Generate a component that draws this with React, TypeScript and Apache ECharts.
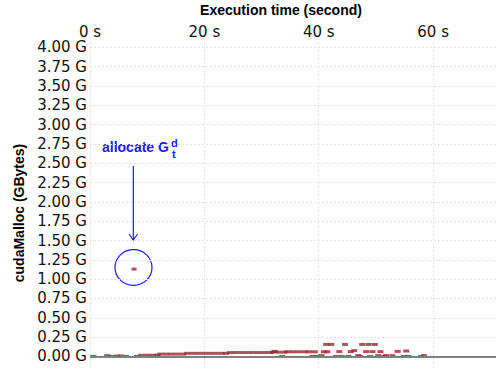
import React, { useEffect, useRef } from "react";
import * as echarts from "echarts";

const yTicks = [0, 0.25, 0.5, 0.75, 1, 1.25, 1.5, 1.75, 2, 2.25, 2.5, 2.75, 3, 3.25, 3.5, 3.75, 4];
const xTickUnit = " s";

// [time (s), cudaMalloc (GB)]
const allocPoint: number[][] = [[7.7, 1.13]];

const memTimes = [
  0.6, 3.0, 3.8, 4.8, 5.4, 6.3, 8.2,
  9.0, 10.0, 11.0, 11.8,
  12.3, 13.3, 14.3, 15.3, 16.3,
  17.0, 18.0, 19.0, 20.0, 21.0, 22.0, 23.0, 23.8,
  24.5, 25.5, 26.5, 27.5, 28.5, 29.5, 30.5, 31.5,
  32.0, 32.3, 33.0, 33.6, 34.0,
  34.5, 35.5, 36.5, 37.5, 38.3,
  39.3, 40.9, 41.5,
  41.3, 42.2, 44.6, 47.6, 48.7, 49.8,
  43.6, 45.6, 46.2, 48.3, 49.4, 50.8,
  38.9, 39.6, 40.5, 43.0, 44.0, 45.2, 46.9, 47.2, 49.0, 50.4, 51.5,
  51.8, 52.9, 53.8, 55.3, 54.9, 55.7, 57.9, 58.4,
];
const memValues = [
  0, 0.01, 0, 0.005, 0.005, 0, 0,
  0.015, 0.015, 0.015, 0.015,
  0.03, 0.03, 0.03, 0.03, 0.03,
  0.04, 0.04, 0.04, 0.04, 0.04, 0.04, 0.04, 0.04,
  0.05, 0.05, 0.05, 0.05, 0.05, 0.05, 0.05, 0.05,
  0.055, 0.065, 0.055, 0, 0.055,
  0.06, 0.06, 0.06, 0.06, 0.06,
  0.06, 0.06, 0.06,
  0.155, 0.155, 0.155, 0.155, 0.155, 0.155,
  0.062, 0.062, 0.075, 0.062, 0.062, 0.062,
  0, 0, 0.01, 0, 0, 0, 0.01, 0, 0, 0.01, 0,
  0.01, 0.01, 0.065, 0.07, 0, 0, 0, 0.01,
];

const RED = "#9b2731";
const BLUE = "#1a1aff";

export default function App() {
  const ref = useRef<HTMLDivElement>(null);
  useEffect(() => {
    if (!ref.current) return;
    const chart = echarts.init(ref.current, null, { renderer: "svg" });
    const memData = memTimes.map((t, i) => [t, memValues[i]]);
    chart.setOption({
      animation: false,
      backgroundColor: "#ffffff",
      grid: { left: 90, right: 0, top: 42, bottom: 0, outerBoundsMode: "none" },
      xAxis: {
        type: "value",
        position: "top",
        min: 0,
        max: 71,
        interval: 20,
        name: "Execution time (second)",
        nameLocation: "middle",
        nameGap: 25,
        nameTextStyle: {
          fontFamily: "Liberation Sans",
          fontWeight: "bold",
          fontSize: 14,
          color: "#000",
          padding: [0, 24, 0, 0],
        },
        axisLine: { show: false },
        axisTick: { show: false },
        axisLabel: {
          formatter: (v: number) => v + xTickUnit,
          fontFamily: "DejaVu Sans",
          fontSize: 15,
          color: "#111",
          margin: 3,
          showMaxLabel: false,
        },
        splitLine: { show: true, lineStyle: { color: "#e4e4e4", type: [2, 2], width: 1 } },
      },
      yAxis: {
        type: "value",
        min: -0.15,
        max: 4.07,
        name: "cudaMalloc (GBytes)",
        nameLocation: "middle",
        nameGap: 62,
        nameTextStyle: {
          fontFamily: "Liberation Sans",
          fontWeight: "bold",
          fontSize: 14,
          color: "#000",
          padding: [0, 16, 0, 0],
        },
        axisLine: { show: false },
        axisTick: { show: false, customValues: yTicks },
        axisLabel: {
          customValues: yTicks,
          formatter: (v: number) => v.toFixed(2) + " G",
          fontFamily: "DejaVu Sans",
          fontSize: 15,
          color: "#111",
          margin: 3,
        },
        splitLine: { show: true, lineStyle: { color: "#e4e4e4", type: [2, 2], width: 1 } },
      },
      series: [
        {
          type: "line",
          data: [],
          z: 1,
          silent: true,
          markLine: {
            silent: true,
            symbol: ["none", "none"],
            label: { show: false },
            lineStyle: { color: "#808080", width: 2, type: "solid" },
            data: [{ yAxis: 0 }],
          },
        },
        {
          type: "scatter",
          z: 3,
          symbol: "rect",
          symbolSize: [6, 3],
          itemStyle: { color: RED },
          data: memData,
        },
        {
          type: "scatter",
          z: 3,
          symbol: "rect",
          symbolSize: [5, 3],
          itemStyle: { color: RED },
          data: allocPoint,
        },
      ],
      graphic: [
        {
          type: "text",
          x: 102,
          y: 147,
          style: {
            text: "allocate G",
            fill: BLUE,
            font: "bold 14px 'Liberation Sans'",
            verticalAlign: "middle",
            align: "left",
          },
        },
        {
          type: "text",
          x: 171,
          y: 143,
          style: {
            text: "d",
            fill: BLUE,
            font: "bold 11px 'Liberation Sans'",
            verticalAlign: "middle",
            align: "left",
          },
        },
        {
          type: "text",
          x: 172,
          y: 154,
          style: {
            text: "t",
            fill: BLUE,
            font: "bold 11px 'Liberation Sans'",
            verticalAlign: "middle",
            align: "left",
          },
        },
        {
          type: "line",
          shape: { x1: 133.3, y1: 166, x2: 133.3, y2: 240 },
          style: { stroke: BLUE, lineWidth: 1.2 },
        },
        {
          type: "polyline",
          shape: { points: [[129, 234], [133.3, 240], [137.6, 234]] },
          style: { stroke: BLUE, lineWidth: 1.2, fill: "none" },
        },
        {
          type: "ellipse",
          shape: { cx: 133.5, cy: 267.5, rx: 18.5, ry: 17.8 },
          style: { stroke: BLUE, lineWidth: 1.2, fill: "none" },
        },
      ],
    });
    return () => chart.dispose();
  }, []);
  return (
    <div
      ref={ref}
      style={{ position: "fixed", left: 0, top: 0, width: 496, height: 368 }}
    />
  );
}
